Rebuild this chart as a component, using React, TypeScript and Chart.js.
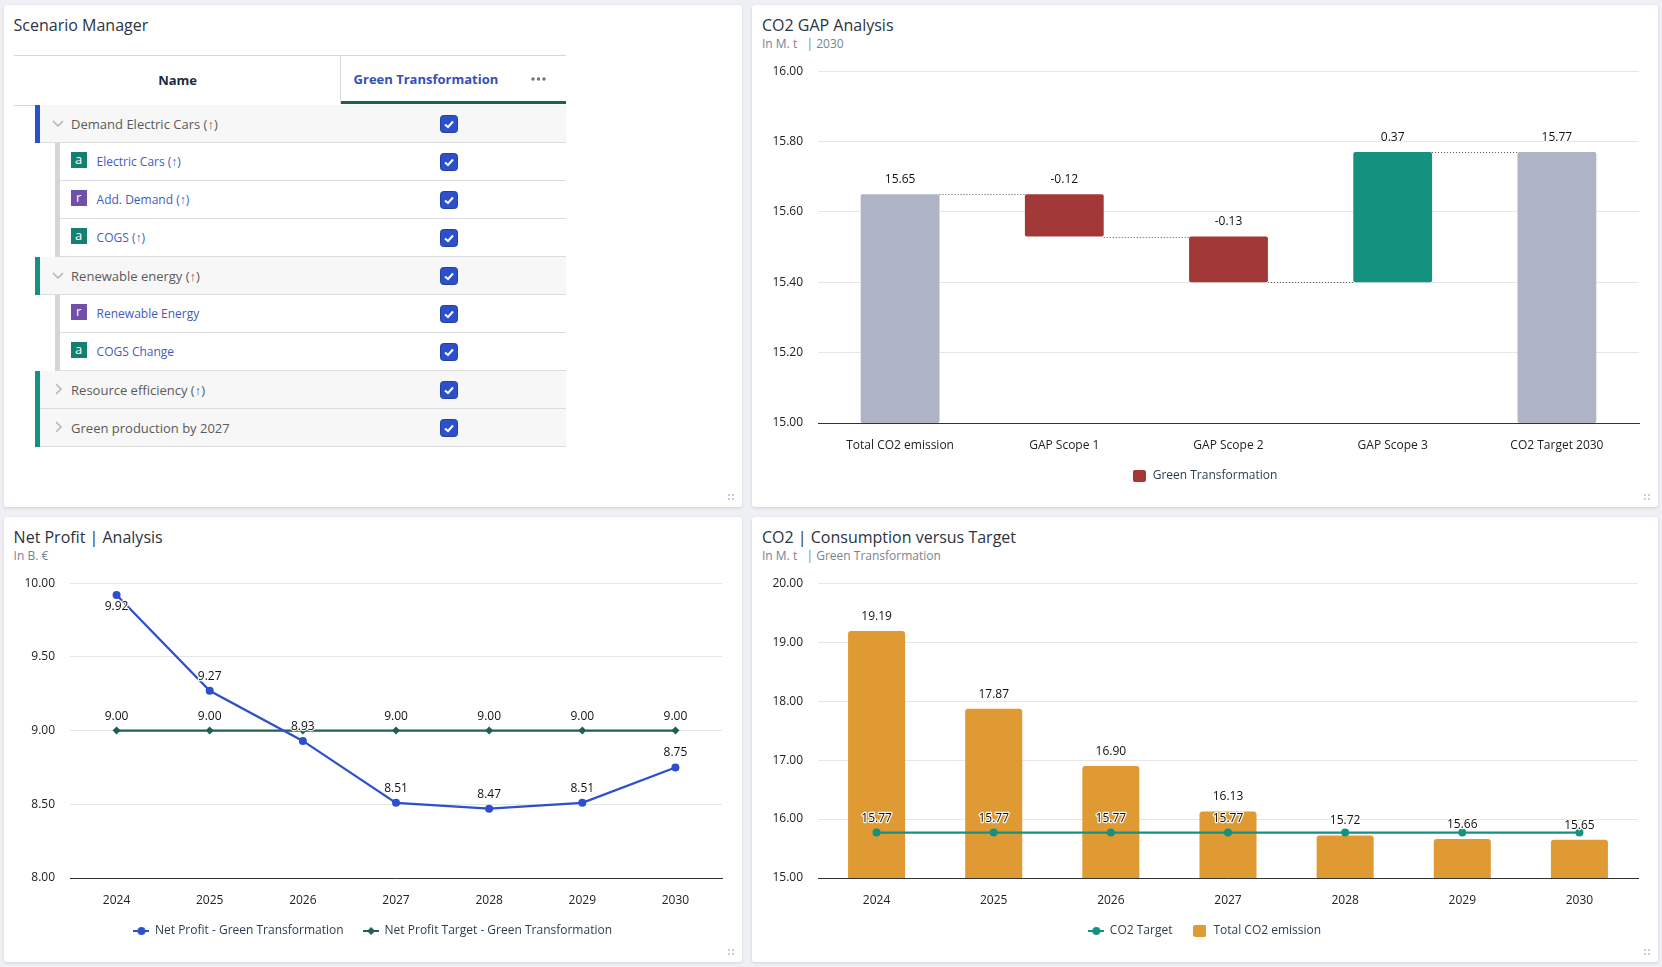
import React, { useEffect, useRef } from 'react';
import { Chart, registerables } from 'chart.js';

Chart.register(...registerables);

const FONT = '"Open Sans", sans-serif';

// CO2 GAP chart
const gapCategories = ['Total CO2 emission', 'GAP Scope 1', 'GAP Scope 2', 'GAP Scope 3', 'CO2 Target 2030'];
const gapLabels = ['15.65', '-0.12', '-0.13', '0.37', '15.77'];
const gapStart = [15, 15.53, 15.4, 15.4, 15];
const gapEnd = [15.65, 15.65, 15.53, 15.77, 15.77];
const gapConnectors = [15.65, 15.53, 15.4, 15.77];

// Net profit chart
const years = ['2024', '2025', '2026', '2027', '2028', '2029', '2030'];
const netProfit = [9.92, 9.27, 8.93, 8.51, 8.47, 8.51, 8.75];
const netProfitTarget = [9, 9, 9, 9, 9, 9, 9];

// CO2 consumption chart
const co2Emission = [19.19, 17.87, 16.9, 16.13, 15.72, 15.66, 15.65];
const co2Target = [15.77, 15.77, 15.77, 15.77, 15.77, 15.77, 15.77];

// Scenario table
const scenarioRows = [
  { name: 'Demand Electric Cars (↑)', level: 0, open: true, bar: '#2c4fcb' },
  { name: 'Electric Cars (↑)', level: 1, badge: 'a' },
  { name: 'Add. Demand (↑)', level: 1, badge: 'r' },
  { name: 'COGS (↑)', level: 1, badge: 'a' },
  { name: 'Renewable energy (↑)', level: 0, open: true, bar: '#14917f' },
  { name: 'Renewable Energy', level: 1, badge: 'r' },
  { name: 'COGS Change', level: 1, badge: 'a' },
  { name: 'Resource efficiency (↑)', level: 0, open: false, bar: '#14917f' },
  { name: 'Green production by 2027', level: 0, open: false, bar: '#14917f' },
];

const BLUE = '#2c4fcb';
const DARK_GREEN = '#1f5f54';
const TEAL = '#14917f';
const RED = '#a33838';
const GREY = '#aeb4c6';
const ORANGE = '#e09a33';

function lineMarker(color: string, shape: 'circle' | 'diamond') {
  const c = document.createElement('canvas');
  c.width = 16;
  c.height = 12;
  const ctx = c.getContext('2d')!;
  ctx.strokeStyle = color;
  ctx.fillStyle = color;
  ctx.lineWidth = 2;
  ctx.beginPath();
  ctx.moveTo(0, 6);
  ctx.lineTo(16, 6);
  ctx.stroke();
  ctx.beginPath();
  if (shape === 'circle') {
    ctx.arc(8, 6, 4, 0, Math.PI * 2);
  } else {
    ctx.moveTo(8, 2);
    ctx.lineTo(12, 6);
    ctx.lineTo(8, 10);
    ctx.lineTo(4, 6);
    ctx.closePath();
  }
  ctx.fill();
  return c;
}

function boxMarker(color: string) {
  const c = document.createElement('canvas');
  c.width = 13;
  c.height = 12;
  const ctx = c.getContext('2d')!;
  ctx.fillStyle = color;
  ctx.beginPath();
  ctx.roundRect(0, 0, 13, 12, 2);
  ctx.fill();
  return c;
}

// value labels above marks, with a thin white halo like the original
const valueLabels = {
  id: 'valueLabels',
  afterDatasetsDraw(chart: any) {
    const { ctx } = chart;
    ctx.save();
    ctx.font = `12px ${FONT}`;
    ctx.textAlign = 'center';
    ctx.textBaseline = 'middle';
    ctx.lineJoin = 'round';
    chart.data.datasets.forEach((ds: any, d: number) => {
      if (!ds.valueText) return;
      chart.getDatasetMeta(d).data.forEach((el: any, i: number) => {
        const text = ds.valueText(i);
        if (!text) return;
        const top = ds.type === 'line' ? el.y : Math.min(el.y, el.base);
        const y = ds.labelBelow && ds.labelBelow.includes(i) ? top + 12 : top - 14.5;
        ctx.strokeStyle = 'rgba(255,255,255,0.9)';
        ctx.lineWidth = 2.5;
        ctx.strokeText(text, el.x, y);
        ctx.fillStyle = '#111';
        ctx.fillText(text, el.x, y);
      });
    });
    ctx.restore();
  },
};

// dotted lines between the waterfall bars
const connectors = {
  id: 'connectors',
  afterDatasetsDraw(chart: any) {
    const { ctx } = chart;
    const bars = chart.getDatasetMeta(0).data;
    ctx.save();
    ctx.strokeStyle = '#555';
    ctx.lineWidth = 1;
    ctx.setLineDash([1, 2]);
    gapConnectors.forEach((level, i) => {
      const y = Math.round(chart.scales.y.getPixelForValue(level)) + 0.5;
      ctx.beginPath();
      ctx.moveTo(bars[i].x + bars[i].width / 2, y);
      ctx.lineTo(bars[i + 1].x - bars[i + 1].width / 2, y);
      ctx.stroke();
    });
    ctx.restore();
  },
};

// the x axis box is kept short so the legend sits close, but its labels clip to the box
const unclipAxis = {
  id: 'unclipAxis',
  afterLayout(chart: any) {
    chart.scales.x.bottom = chart.scales.x.top + 36;
  },
};

function baseOptions(min: number, max: number, step: number, sidePad: number, rightPad: number, markers: () => any[]) {
  return {
    animation: false,
    responsive: false,
    maintainAspectRatio: false,
    layout: { padding: { top: 13, left: sidePad, right: rightPad } },
    plugins: {
      title: { display: false },
      tooltip: { enabled: false },
      legend: {
        position: 'bottom',
        labels: {
          usePointStyle: true,
          pointStyleWidth: 15,
          boxHeight: 12,
          padding: 20,
          color: '#2b3f50',
          font: { family: FONT, size: 12 },
          generateLabels(chart: any) {
            const ms = markers();
            return Chart.defaults.plugins.legend.labels.generateLabels(chart).map((it: any, i: number) => ({
              ...it,
              pointStyle: ms[i],
            }));
          },
        },
      },
    },
    scales: {
      x: {
        offset: true,
        afterFit(axis: any) {
          axis.height = 27;
        },
        grid: { display: false, drawTicks: false },
        border: { color: '#333', width: 1 },
        ticks: { color: '#222', padding: 15, maxRotation: 0, font: { family: FONT, size: 12 } },
      },
      y: {
        min,
        max,
        afterFit(axis: any) {
          axis.width = 66 - sidePad;
        },
        grid: { color: '#e6e6e6', drawTicks: false },
        border: { display: false },
        ticks: {
          stepSize: step,
          padding: 15,
          color: '#222',
          font: { family: FONT, size: 12 },
          callback: (v: any) => Number(v).toFixed(2),
        },
      },
    },
  };
}

function gapConfig() {
  const colors = gapCategories.map((_, i) =>
    i === 0 || i === gapCategories.length - 1 ? GREY : gapEnd[i] > gapEnd[i - 1] ? TEAL : RED
  );
  return {
    type: 'bar',
    data: {
      labels: gapCategories,
      datasets: [
        {
          type: 'bar',
          label: 'Green Transformation',
          data: gapStart.map((s, i) => [s, gapEnd[i]]),
          backgroundColor: colors,
          borderRadius: 2,
          borderSkipped: false,
          barPercentage: 1,
          categoryPercentage: 0.48,
          valueText: (i: number) => gapLabels[i],
        },
      ],
    },
    options: baseOptions(15, 16, 0.2, 18, 19, () => [boxMarker(RED)]),
    plugins: [unclipAxis, connectors, valueLabels],
  };
}

function profitConfig() {
  return {
    type: 'line',
    data: {
      labels: years,
      datasets: [
        {
          type: 'line',
          label: 'Net Profit - Green Transformation',
          data: netProfit,
          borderColor: BLUE,
          backgroundColor: BLUE,
          borderWidth: 2.2,
          pointRadius: 4,
          pointBorderWidth: 0,
          tension: 0,
          labelBelow: [0],
          valueText: (i: number) => netProfit[i].toFixed(2),
        },
        {
          type: 'line',
          label: 'Net Profit Target - Green Transformation',
          data: netProfitTarget,
          borderColor: DARK_GREEN,
          backgroundColor: DARK_GREEN,
          borderWidth: 2.4,
          pointStyle: 'rectRot',
          pointRadius: 4,
          pointBorderWidth: 0,
          tension: 0,
          // dropped where the profit label would land on top of it
          valueText: (i: number) => (Math.abs(netProfit[i] - netProfitTarget[i]) < 0.1 ? '' : netProfitTarget[i].toFixed(2)),
        },
      ],
    },
    options: baseOptions(8, 10, 0.5, 20, 20, () => [lineMarker(BLUE, 'circle'), lineMarker(DARK_GREEN, 'diamond')]),
    plugins: [unclipAxis, valueLabels],
  };
}

function co2Config() {
  return {
    type: 'bar',
    data: {
      labels: years,
      datasets: [
        {
          type: 'line',
          label: 'CO2 Target',
          data: co2Target,
          borderColor: TEAL,
          backgroundColor: TEAL,
          borderWidth: 2.2,
          pointRadius: 4,
          pointBorderWidth: 0,
          tension: 0,
          // the target label is hidden where the bar's own label sits on it
          valueText: (i: number) => (co2Emission[i] > co2Target[i] ? co2Target[i].toFixed(2) : ''),
        },
        {
          type: 'bar',
          label: 'Total CO2 emission',
          data: co2Emission,
          backgroundColor: ORANGE,
          borderRadius: 3,
          borderSkipped: 'bottom',
          barPercentage: 1,
          categoryPercentage: 0.487,
          valueText: (i: number) => co2Emission[i].toFixed(2),
        },
      ],
    },
    options: baseOptions(15, 20, 1, 20, 20, () => [lineMarker(TEAL, 'circle'), boxMarker(ORANGE)]),
    plugins: [unclipAxis, valueLabels],
  };
}

function ChartBox({ config, left, top, width, height }: any) {
  const ref = useRef<HTMLCanvasElement>(null);

  useEffect(() => {
    const chart = new Chart(ref.current as any, config());
    return () => chart.destroy();
  }, [config]);

  return <canvas ref={ref} width={width} height={height} style={{ position: 'absolute', left, top, width, height }} />;
}

function Panel({ left, top, width, height, title, sub, children }: any) {
  return (
    <div
      style={{
        position: 'absolute',
        left,
        top,
        width,
        height,
        background: '#fff',
        borderRadius: 3,
        boxShadow: '0 1px 3px rgba(60,70,90,0.18)',
      }}
    >
      <div style={{ position: 'absolute', left: 10, top: 9, fontSize: 16, lineHeight: '22px', color: '#2b3440', whiteSpace: 'pre' }}>
        {title}
      </div>
      {sub && (
        <div style={{ position: 'absolute', left: 10, top: 30, fontSize: 12, lineHeight: '18px', color: '#7a8290', whiteSpace: 'pre' }}>
          {sub}
        </div>
      )}
      {/* resize grip */}
      <svg style={{ position: 'absolute', right: 8, bottom: 7 }} width="6" height="6">
        {[0, 4].map((x) => [0, 4].map((y) => <rect key={`${x}${y}`} x={x} y={y} width="2" height="2" fill="#c9ced6" />))}
      </svg>
    </div>
  );
}

function Chevron({ open }: { open: boolean }) {
  return (
    <svg width="12" height="12" style={{ position: 'absolute', left: 48, top: 12 }}>
      <polyline
        points={open ? '1,4 6,9 11,4' : '4,1 9,6 4,11'}
        fill="none"
        stroke="#b5b5b5"
        strokeWidth="1.5"
      />
    </svg>
  );
}

function Check({ top }: { top: number }) {
  return (
    <svg width="18" height="18" style={{ position: 'absolute', left: 436.4, top }}>
      <rect x="0.5" y="0.5" width="17" height="17" rx="3" fill={BLUE} stroke="#23409f" />
      <polyline points="5,9.5 8,12 13,6.5" fill="none" stroke="#fff" strokeWidth="2" />
    </svg>
  );
}

function ScenarioTable() {
  return (
    <div style={{ position: 'absolute', left: 3.6, top: 5 }}>
      <div style={{ position: 'absolute', left: 10, top: 50, width: 552, height: 49, borderTop: '1px solid #d5d5d5', borderBottom: '1px solid #d5d5d5', background: '#fff' }} />
      <div style={{ position: 'absolute', left: 336, top: 50, width: 1, height: 49, background: '#d9d9d9' }} />
      <div style={{ position: 'absolute', left: 337, top: 96, width: 225, height: 3, background: DARK_GREEN }} />
      <div style={{ position: 'absolute', left: 11, width: 326, top: 65, textAlign: 'center', fontSize: 13, fontWeight: 700, lineHeight: '20px', color: '#1d2c3c' }}>
        Name
      </div>
      <div style={{ position: 'absolute', left: 350, top: 64, fontSize: 13, fontWeight: 700, lineHeight: '20px', color: '#3550b8', whiteSpace: 'nowrap' }}>
        Green Transformation
      </div>
      <svg width="16" height="4" style={{ position: 'absolute', left: 527, top: 72 }}>
        {[2, 7.5, 13].map((x) => <circle key={x} cx={x} cy="2" r="1.7" fill="#6b7280" />)}
      </svg>
      {scenarioRows.map((row, i) => {
        const top = 99.7 + i * 38.05;
        const group = row.level === 0;
        return (
          <div key={i} style={{ position: 'absolute', left: group ? 31 : 51, top, width: group ? 531 : 511, height: 37, borderBottom: '1px solid #dcdcdc', background: group ? '#f7f7f7' : '#fff' }}>
            <div style={{ position: 'absolute', left: 0, top: 0, width: 5, height: 38, background: group ? row.bar : '#d6d6d6' }} />
            <div style={{ position: 'absolute', left: group ? -31 : -51, top: 0, width: 500, height: 37 }}>
              {group && <Chevron open={!!row.open} />}
              {!group && (
                <div style={{ position: 'absolute', left: 67, top: 9, width: 16, height: 16, background: row.badge === 'a' ? '#14806f' : '#7050a8', color: '#fff', fontSize: 13, lineHeight: '14px', textAlign: 'center' }}>
                  {row.badge}
                </div>
              )}
              <div style={{ position: 'absolute', left: group ? 67.5 : 93, top: 9, fontSize: group ? 13 : 12, lineHeight: '20px', color: group ? '#5a5a5a' : '#3f5cc0', whiteSpace: 'pre' }}>
                {row.name}
              </div>
              <Check top={10} />
            </div>
          </div>
        );
      })}
    </div>
  );
}

export default function App() {
  return (
    <div style={{ position: 'fixed', left: 0, top: 0, width: 1662, height: 967, overflow: 'hidden', background: '#eef0f4', fontFamily: FONT }}>
      <Panel left={3.6} top={5} width={738.4} height={502} title="Scenario Manager" />
      <ScenarioTable />
      <Panel left={752} top={5} width={906} height={502} title="CO2 GAP Analysis" sub="In M. t   | 2030" />
      <ChartBox config={gapConfig} left={752} top={49} width={906} height={443} />
      <Panel left={3.6} top={517} width={738.4} height={445} title="Net Profit | Analysis" sub="In B. €" />
      <ChartBox config={profitConfig} left={4} top={561} width={738} height={386} />
      <Panel left={752} top={517} width={906} height={445} title="CO2 | Consumption versus Target" sub="In M. t   | Green Transformation" />
      <ChartBox config={co2Config} left={752} top={561} width={906} height={386} />
    </div>
  );
}
